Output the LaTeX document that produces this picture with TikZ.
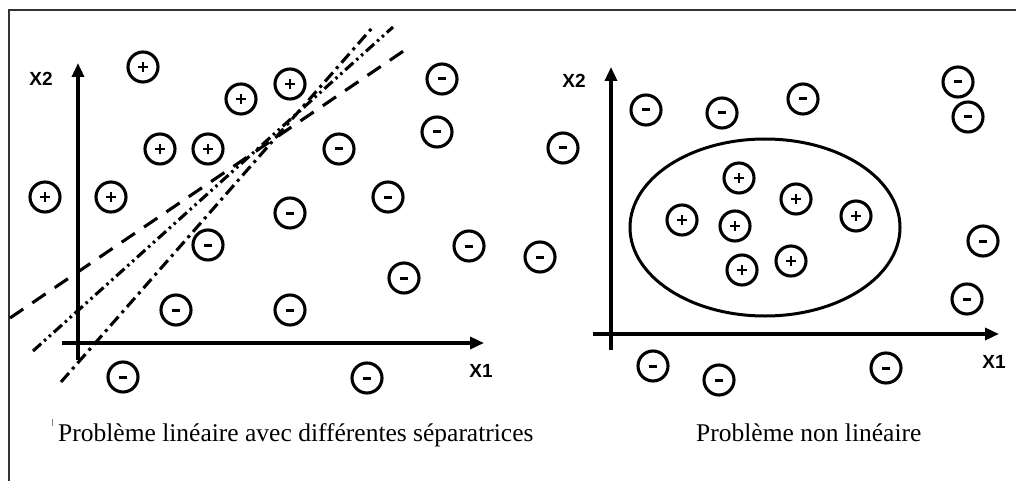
\documentclass[tikz,border=0pt]{standalone}
\usepackage{fontspec}
\setmainfont{Liberation Serif}
\newfontfamily\labfont{Liberation Sans}
\usetikzlibrary{arrows.meta,shapes.geometric}
\begin{document}
\begin{tikzpicture}[x=1pt,y=-1pt,
  sample/.style={circle,draw,line width=3.1pt,minimum size=30pt,inner sep=0pt},
  plussample/.style={sample,path picture={
    \draw[line width=2.8pt] ([xshift=-5pt]path picture bounding box.center) -- ([xshift=5pt]path picture bounding box.center);
    \draw[line width=2.8pt] ([yshift=-5pt]path picture bounding box.center) -- ([yshift=5pt]path picture bounding box.center);}},
  minussample/.style={sample,path picture={
    \draw[line width=3pt] ([xshift=-3.8pt]path picture bounding box.center) -- ([xshift=3.8pt]path picture bounding box.center);}},
  axisline/.style={line width=3.4pt,-{Triangle[length=14pt,width=12pt]}},
  axlab/.style={font=\labfont\bfseries\fontsize{19}{19}\selectfont,inner sep=0pt},
  captext/.style={font=\fontsize{25.5}{26}\selectfont,inner sep=0pt,anchor=base west},
  sepline/.style={line width=3.1pt},
  frameline/.style={line width=1.5pt,black!80}
]
\useasboundingbox (0,0) rectangle (1016,481);
% frame
\coordinate (fa) at (9,481);
\coordinate (fb) at (9,10);
\coordinate (fc) at (1016,10);
\draw[frameline] (fa) -- (fb) -- (fc);

% ---------- left panel ----------
\coordinate (Ly0) at (78,360);
\coordinate (Ly1) at (78,63);
\coordinate (Lx0) at (62,343);
\coordinate (Lx1) at (484,343);
\draw[axisline] (Ly0) -- (Ly1);
\draw[axisline] (Lx0) -- (Lx1);
\node[axlab] (LX2) at (41,79) {X2};
\node[axlab] (LX1) at (481,371) {X1};

% separators
\coordinate (s1a) at (10,318);
\coordinate (s1b) at (405,50);
\coordinate (s2a) at (33,351);
\coordinate (s2b) at (393,27);
\coordinate (s3a) at (61,382);
\coordinate (s3b) at (372,28);
\draw[sepline,dash pattern=on 16pt off 11pt] (s1a) -- (s1b);
\draw[sepline,dash pattern=on 11pt off 4pt on 2.5pt off 4pt on 2.5pt off 4pt] (s2a) -- (s2b);
\draw[sepline,dash pattern=on 12pt off 5pt on 3pt off 5pt] (s3a) -- (s3b);

% positives
\node[plussample] (lp1) at (143,67) {};
\node[plussample] (lp2) at (241,99) {};
\node[plussample] (lp3) at (290,84) {};
\node[plussample] (lp4) at (160,149) {};
\node[plussample] (lp5) at (208,149) {};
\node[plussample] (lp6) at (45,197) {};
\node[plussample] (lp7) at (111,197) {};
% negatives
\node[minussample] (ln1) at (442,79) {};
\node[minussample] (ln2) at (437,132) {};
\node[minussample] (ln3) at (563,148) {};
\node[minussample] (ln4) at (339,149) {};
\node[minussample] (ln5) at (388,197) {};
\node[minussample] (ln6) at (290,213) {};
\node[minussample] (ln7) at (208,245) {};
\node[minussample] (ln8) at (469,246) {};
\node[minussample] (ln9) at (540,257) {};
\node[minussample] (ln10) at (404,278) {};
\node[minussample] (ln11) at (176,310) {};
\node[minussample] (ln12) at (290,310) {};
\node[minussample] (ln13) at (123,377) {};
\node[minussample] (ln14) at (367,378) {};

% ---------- right panel ----------
\coordinate (Ry0) at (611,350);
\coordinate (Ry1) at (611,67);
\coordinate (Rx0) at (593,334);
\coordinate (Rx1) at (999,334);
\draw[axisline] (Ry0) -- (Ry1);
\draw[axisline] (Rx0) -- (Rx1);
\node[axlab] (RX2) at (574,81) {X2};
\node[axlab] (RX1) at (994,362) {X1};

\node[ellipse,draw,line width=3pt,minimum width=270pt,minimum height=177pt,inner sep=0pt] (region) at (765,227.5) {};

\node[plussample] (rp1) at (739,178) {};
\node[plussample] (rp2) at (796,199) {};
\node[plussample] (rp3) at (682,220) {};
\node[plussample] (rp4) at (735,226) {};
\node[plussample] (rp5) at (856,216) {};
\node[plussample] (rp6) at (742,270) {};
\node[plussample] (rp7) at (791,261) {};

\node[minussample] (rn1) at (646,110) {};
\node[minussample] (rn2) at (722,113) {};
\node[minussample] (rn3) at (803,99) {};
\node[minussample] (rn4) at (958,82) {};
\node[minussample] (rn5) at (968,117) {};
\node[minussample] (rn6) at (983,241) {};
\node[minussample] (rn7) at (967,299) {};
\node[minussample] (rn8) at (653,366) {};
\node[minussample] (rn9) at (719,380) {};
\node[minussample] (rn10) at (886,368) {};

% captions
\coordinate (tka) at (52,419);
\coordinate (tkb) at (52,426);
\draw[line width=0.8pt,black!50] (tka) -- (tkb);
\node[captext] (cap1) at (58,441) {Problème linéaire avec différentes séparatrices};
\node[captext] (cap2) at (696,441) {Problème non linéaire};
\end{tikzpicture}
\end{document}
